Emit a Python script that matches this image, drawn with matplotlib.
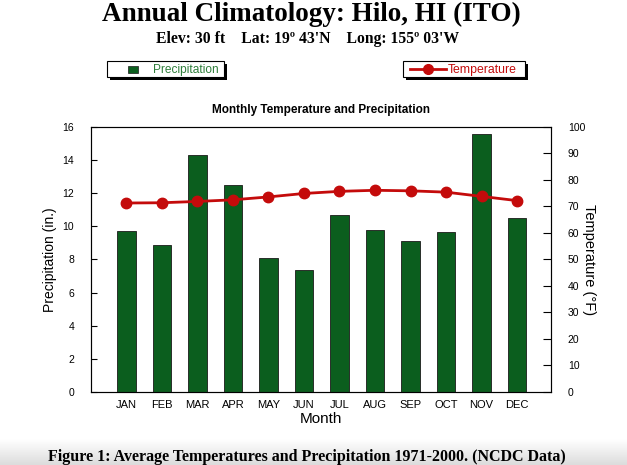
import matplotlib
matplotlib.use("Agg")
import matplotlib.pyplot as plt
from matplotlib.patches import Rectangle
from matplotlib.lines import Line2D
import numpy as np

months = ["JAN", "FEB", "MAR", "APR", "MAY", "JUN", "JUL", "AUG", "SEP", "OCT", "NOV", "DEC"]
precip = [9.72, 8.89, 14.30, 12.50, 8.08, 7.36, 10.71, 9.78, 9.12, 9.64, 15.56, 10.48]
temp = [71.3, 71.4, 71.9, 72.5, 73.6, 74.9, 75.7, 76.1, 75.9, 75.4, 73.8, 72.2]

green = "#0b5e1e"
red = "#c40b0b"
sans = ["Liberation Sans", "DejaVu Sans"]
serif = ["Liberation Serif", "DejaVu Serif"]

fig = plt.figure(figsize=(6.27, 4.65), dpi=100)

# faint grey strip at the bottom
bg = fig.add_axes([0, 0, 1, 0.055], zorder=-5)
grad = np.linspace(1.0, 0.86, 50).reshape(-1, 1)
bg.imshow(grad, cmap="gray", vmin=0, vmax=1, aspect="auto", extent=[0, 1, 0, 1])
bg.axis("off")

ax = fig.add_axes([0.145, 0.157, 0.734, 0.570])
x = np.arange(len(months))
bars = ax.bar(x, precip, width=0.52, color=green, edgecolor="#1a1a1a", linewidth=0.6, zorder=2)
ax.set_xlim(-1.0, 11.96)
ax.set_ylim(0, 16)
ax.set_yticks(np.arange(0, 17, 2))
ax.set_xticks(x)
ax.set_xticklabels(months, fontsize=8, family=sans)
ax.tick_params(axis="x", length=0, pad=6)
ax.tick_params(axis="y", direction="in", length=4, labelsize=7.5, pad=12)
for lab in ax.get_yticklabels():
    lab.set_family(sans)
ax.set_xlabel("Month", fontsize=11, family=sans, labelpad=1)
ax.set_ylabel("Precipitation (in.)", fontsize=10, family=sans, labelpad=4)
for s in ax.spines.values():
    s.set_color("#444444")
    s.set_linewidth(0.8)

ax2 = ax.twinx()
ax2.plot(x, temp, color=red, linewidth=2, marker="o", markersize=7.5, zorder=3)
ax2.set_ylim(0, 100)
ax2.set_yticks(np.arange(0, 101, 10))
ax2.tick_params(axis="y", direction="in", length=6, labelsize=7.5, pad=12)
for lab in ax2.get_yticklabels():
    lab.set_family(sans)
ax2.set_ylabel("Temperature (°F)", fontsize=10.5, family=sans, rotation=-90, labelpad=8)

ax.set_title("Monthly Temperature and Precipitation", fontsize=8.5, fontweight="bold",
             family=sans, pad=10)

fig.text(0.497, 0.968, "Annual Climatology: Hilo, HI (ITO)", ha="center", va="center",
         fontsize=19.5, fontweight="bold", family=serif)
fig.text(0.491, 0.917, "Elev: 30 ft    Lat: 19º 43'N    Long: 155º 03'W", ha="center", va="center",
         fontsize=11.3, fontweight="bold", family=serif)
fig.text(0.49, 0.018, "Figure 1: Average Temperatures and Precipitation 1971-2000. (NCDC Data)",
         ha="center", va="center", fontsize=11.5, fontweight="bold", family=serif)

W, H = 627.0, 465.0


def legend_box(x0, x1, y0, y1):
    fig.patches.append(Rectangle(((x0 + 3) / W, 1 - (y1 + 3) / H), (x1 - x0) / W, (y1 - y0) / H,
                                 transform=fig.transFigure, facecolor="black", edgecolor="none", zorder=1))
    fig.patches.append(Rectangle((x0 / W, 1 - y1 / H), (x1 - x0) / W, (y1 - y0) / H,
                                 transform=fig.transFigure, facecolor="white", edgecolor="black",
                                 linewidth=0.8, zorder=2))


legend_box(107, 224, 61, 77)
fig.patches.append(Rectangle((128 / W, 1 - 73 / H), 10 / W, 7 / H, transform=fig.transFigure,
                             facecolor=green, edgecolor="#1a1a1a", linewidth=0.5, zorder=3))
fig.text(153 / W, 1 - 69.5 / H, "Precipitation", color="#2e7d3a", fontsize=8.6,
         family=sans, va="center", zorder=3)

legend_box(403, 525, 61, 77)
fig.lines.append(Line2D([410 / W, 446 / W], [1 - 69.5 / H, 1 - 69.5 / H], transform=fig.transFigure,
                        color=red, linewidth=2, zorder=3))
fig.lines.append(Line2D([428 / W], [1 - 69.5 / H], transform=fig.transFigure, color=red,
                        marker="o", markersize=7, zorder=3))
fig.text(448 / W, 1 - 69.5 / H, "Temperature", color=red, fontsize=8.8,
         family=sans, va="center", zorder=3)

fig.savefig("out.png", dpi=100)
